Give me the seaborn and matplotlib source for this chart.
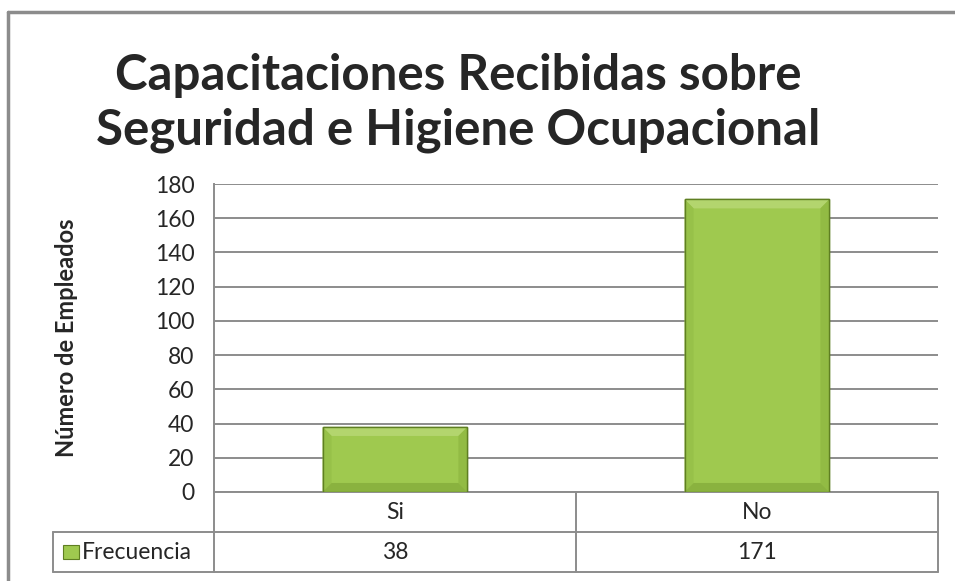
import matplotlib
matplotlib.use("Agg")
import matplotlib.pyplot as plt
import matplotlib.transforms as mtransforms
from matplotlib.patches import Rectangle, Polygon
import seaborn as sns
import pandas as pd

# data
categorias = ["Si", "No"]
frecuencia = [38, 171]
serie = "Frecuencia"
titulo = ["Capacitaciones Recibidas sobre", "Seguridad e Higiene Ocupacional"]
ylabel = "Número de Empleados"
yticks = list(range(0, 181, 20))

sns.set_style("white")
plt.rcParams['font.family'] = ['Lato', 'DejaVu Sans']

verde = '#9fc94f'
borde = '#5f7f22'
gris = '#8c8c8c'

df = pd.DataFrame({'cat': categorias, 'val': frecuencia})

fig = plt.figure(figsize=(9.55, 5.81), dpi=100)
ax = fig.add_axes([0.2241, 0.1532, 0.7581, 0.5301])

sns.barplot(data=df, x='cat', y='val', color=verde, width=0.4,
            edgecolor=borde, linewidth=1.0, saturation=1, ax=ax, zorder=3)

ax.set_ylim(0, 180)
ax.set_xlim(-0.5, 1.5)
ax.set_yticks(yticks)
ax.set_yticklabels([str(t) for t in yticks], fontsize=16.5)
ax.tick_params(axis='y', length=0, pad=14)
ax.set_xticks([])
ax.set_xlabel('')
ax.set_ylabel(ylabel, fontsize=17, fontweight='bold', labelpad=55)
ax.yaxis.grid(True, color=gris, linewidth=1.4, zorder=0)
ax.set_axisbelow(True)
for s in ['top', 'right', 'bottom']:
    ax.spines[s].set_visible(False)
ax.spines['left'].set_color(gris)
ax.spines['left'].set_linewidth(1.4)

# bevel look on the bars, taken from the bars seaborn drew
fig.canvas.draw()
inv = ax.transData.inverted()
for p in list(ax.patches):
    x0, y0 = p.get_x(), p.get_y()
    x1, y1 = x0 + p.get_width(), y0 + p.get_height()
    px0, py0 = ax.transData.transform((x0, y0))
    px1, py1 = ax.transData.transform((x1, y1))
    b = 9
    ix0, iy0 = inv.transform((px0 + b, py0 + b))
    ix1, iy1 = inv.transform((px1 - b, py1 - b))
    faces = [
        ([(x0, y1), (x1, y1), (ix1, iy1), (ix0, iy1)], '#b3d56e'),
        ([(x0, y0), (x0, y1), (ix0, iy1), (ix0, iy0)], '#97c149'),
        ([(x1, y0), (x1, y1), (ix1, iy1), (ix1, iy0)], '#92bb44'),
        ([(x0, y0), (x1, y0), (ix1, iy0), (ix0, iy0)], '#8ab23f'),
    ]
    for pts, c in faces:
        ax.add_patch(Polygon(pts, closed=True, facecolor=c, edgecolor='none', zorder=3.5))
    ax.add_patch(Rectangle((x0, y0), x1 - x0, y1 - y0, facecolor='none',
                           edgecolor=borde, lw=1.0, zorder=3.6))

# data table below the plot
tr = mtransforms.blended_transform_factory(ax.transData, ax.transAxes)
r1, r2, r3 = -0.13, -0.26, 0.0
lk = dict(color=gris, lw=1.4, clip_on=False)
ax.plot([-0.5, -0.5], [0, r2], transform=tr, **lk)
ax.plot([0.5, 0.5], [r3, r2], transform=tr, **lk)
ax.plot([1.5, 1.5], [r3, r2], transform=tr, **lk)
ax.plot([-0.5, 1.5], [r3, r3], transform=tr, **lk)
ax.plot([-0.5, 1.5], [r1, r1], transform=tr, **lk)
ax.plot([-0.5, 1.5], [r2, r2], transform=tr, **lk)
ax.plot([-0.222, 0], [r1, r1], transform=ax.transAxes, **lk)
ax.plot([-0.222, 0], [r2, r2], transform=ax.transAxes, **lk)
ax.plot([-0.222, -0.222], [r1, r2], transform=ax.transAxes, **lk)

for i, (c, v) in enumerate(zip(categorias, frecuencia)):
    ax.text(i, (r3 + r1) / 2, c, transform=tr, ha='center', va='center', fontsize=16.5)
    ax.text(i, (r1 + r2) / 2, str(v), transform=tr, ha='center', va='center', fontsize=16.5)

ax.add_patch(Rectangle((-0.208, (r1 + r2) / 2 - 0.024), 0.021, 0.048, transform=ax.transAxes,
                       facecolor=verde, edgecolor=borde, lw=0.8, clip_on=False))
ax.text(-0.182, (r1 + r2) / 2, serie, transform=ax.transAxes, ha='left', va='center', fontsize=16.5)

fig.text(458 / 955, 1 - 75 / 581, titulo[0], fontsize=35.5, fontweight='bold', ha='center', va='center')
fig.text(458 / 955, 1 - 130 / 581, titulo[1], fontsize=35.5, fontweight='bold', ha='center', va='center')

# chart area border
fig.add_artist(plt.Line2D([8 / 955, 8 / 955], [0, 1 - 12 / 581], color=gris, lw=2.5))
fig.add_artist(plt.Line2D([8 / 955, 1], [1 - 12 / 581, 1 - 12 / 581], color=gris, lw=2.5))

fig.savefig('out.png', dpi=100)
